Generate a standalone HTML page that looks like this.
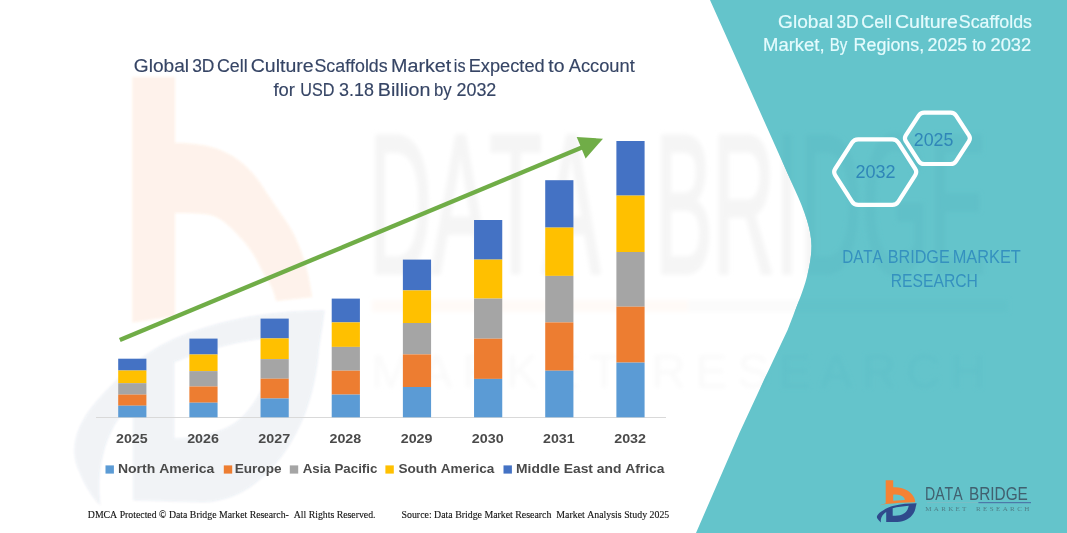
<!DOCTYPE html>
<html lang="en">
<head>
<meta charset="utf-8">
<title>Global 3D Cell Culture Scaffolds Market</title>
<style>
html,body{margin:0;padding:0;background:#fff;}
body{width:1067px;height:533px;overflow:hidden;position:relative;font-family:"Liberation Sans",sans-serif;}
svg{position:absolute;left:0;top:0;display:block;}
text{font-kerning:none;white-space:pre;}
.t{font-family:"Liberation Sans",sans-serif;}
.s{font-family:"Liberation Serif",serif;}
</style>
</head>
<body>
<svg width="1067" height="533" viewBox="0 0 1067 533">
<defs>
<filter id="blur2" x="-5%" y="-5%" width="110%" height="110%"><feGaussianBlur stdDeviation="2.2"/></filter>
<filter id="blur1" x="-5%" y="-5%" width="110%" height="110%"><feGaussianBlur stdDeviation="1"/></filter>
<path id="lgo" fill-rule="evenodd" d="M885.7,480.2 L893.2,480.2 L893.2,487.2 C896.5,487 899.5,487.4 902.1,488.2 C905.8,489.3 908.6,490.8 910.6,492.9 C912.8,495 914.2,497.2 914.8,499.4 C915.1,500.4 915.2,501.3 915.2,502.2 C905,502.3 895,503 885.7,504.1 C883.6,504.4 881.5,504.8 879.6,505.4 C881.4,504.5 883.4,503.9 885.7,503.4 Z M893.2,494.7 C895.8,494.5 898.2,494.7 900.2,495.2 C902.8,495.9 904.5,497.4 904.9,499.9 L893.2,500.7 Z"/>
<path id="lgb" fill-rule="evenodd" d="M916.6,503.2 C912.6,503.2 908.8,503.4 904.9,503.8 C900.6,504.3 896.5,505 892.7,506 C889.2,507 886,508.4 883.4,510.2 C880.4,512 878.2,513.6 877.3,515.4 C876.6,516.8 876.8,518 877.7,519.1 C878.5,520.4 879.6,521.5 881,522.4 C880.6,520.6 880.8,518.8 881.5,517.2 C882.1,515.8 883,514.6 884.3,513.5 C884.9,513 885.5,512.5 886.2,512.1 L886.2,521.9 L897.4,522.1 C900.8,522 904,521.2 906.8,519.6 C909.6,518 911.8,516 913.4,513.5 C914.6,511.6 915.4,509.4 915.7,506.9 C916,505.7 916.3,504.5 916.6,503.2 Z M892.7,508.3 C897.6,507 903,506.2 908.7,505.8 C908.4,507.6 907.8,509.2 906.8,510.7 C905.6,512.3 904,513.6 902.1,514.4 C899.4,515.4 896.2,515.8 892.7,515.8 Z"/>
<path id="pnl" d="M710,0 L795,190 C805,212 811.5,230 811.5,246 C811.5,262 806,283 800,298 L787.6,330 L764,380 L739.4,433 L696,533 L1067,533 L1067,0 Z"/>
<clipPath id="cp"><use href="#pnl"/></clipPath>
</defs>
<rect width="1067" height="533" fill="#ffffff"/>
<g id="wm-logo" filter="url(#blur1)">
<path d="M132.5,77 L175,77 L175,143 C192,143 207,145 220,150 C240,158 254,172 265,190.5 C278,210 287,222 292,231 C302,250 308,268 312,297 L276,301 C274,290 270,283 265,276 C258,262 252,250 242.5,240 C232,228 222,218 211,215 C200,213 188,213 175,213 L175,316 L132.5,322.6 Z" fill="#F58233" opacity="0.10"/>
<g transform="translate(132.5,77) scale(6.3,10.15) translate(-886.1,-480.2)">
<use href="#lgb" fill="#2F4A8C" opacity="0.075"/>
</g></g>
<g id="wm-text" filter="url(#blur2)">
<g class="t" fill="#f5f5f5" stroke="#f5f5f5" stroke-width="3.5" stroke-linejoin="round">
<text x="368.9" y="273" font-size="198" textLength="231.3" lengthAdjust="spacingAndGlyphs">DATA</text>
<text x="654.9" y="273" font-size="198" textLength="331.8" lengthAdjust="spacingAndGlyphs">BRIDGE</text>
</g>
<g class="t" fill="#fafafa">
<text x="371" y="388" font-size="48" textLength="614" lengthAdjust="spacing">MARKET RESEARCH</text>
</g>
<rect x="372" y="300" width="316" height="12" fill="#fffaf7"/>
<rect x="688" y="300" width="130" height="12" fill="#fbfbfb"/>
</g>
<rect x="96" y="417" width="570" height="1" fill="#d9d9d9"/>
<g id="bars">
<rect x="118.20" y="358.70" width="28.2" height="11.80" fill="#4472C4"/>
<rect x="118.20" y="370.50" width="28.2" height="12.70" fill="#FFC000"/>
<rect x="118.20" y="383.20" width="28.2" height="11.40" fill="#A5A5A5"/>
<rect x="118.20" y="394.60" width="28.2" height="11.10" fill="#ED7D31"/>
<rect x="118.20" y="405.70" width="28.2" height="11.60" fill="#5B9BD5"/>
<rect x="189.37" y="338.60" width="28.2" height="15.90" fill="#4472C4"/>
<rect x="189.37" y="354.50" width="28.2" height="16.60" fill="#FFC000"/>
<rect x="189.37" y="371.10" width="28.2" height="15.40" fill="#A5A5A5"/>
<rect x="189.37" y="386.50" width="28.2" height="16.20" fill="#ED7D31"/>
<rect x="189.37" y="402.70" width="28.2" height="14.60" fill="#5B9BD5"/>
<rect x="260.54" y="318.60" width="28.2" height="19.80" fill="#4472C4"/>
<rect x="260.54" y="338.40" width="28.2" height="20.70" fill="#FFC000"/>
<rect x="260.54" y="359.10" width="28.2" height="19.60" fill="#A5A5A5"/>
<rect x="260.54" y="378.70" width="28.2" height="19.80" fill="#ED7D31"/>
<rect x="260.54" y="398.50" width="28.2" height="18.80" fill="#5B9BD5"/>
<rect x="331.71" y="298.60" width="28.2" height="23.80" fill="#4472C4"/>
<rect x="331.71" y="322.40" width="28.2" height="24.50" fill="#FFC000"/>
<rect x="331.71" y="346.90" width="28.2" height="23.80" fill="#A5A5A5"/>
<rect x="331.71" y="370.70" width="28.2" height="23.90" fill="#ED7D31"/>
<rect x="331.71" y="394.60" width="28.2" height="22.70" fill="#5B9BD5"/>
<rect x="402.88" y="259.60" width="28.2" height="30.80" fill="#4472C4"/>
<rect x="402.88" y="290.40" width="28.2" height="32.60" fill="#FFC000"/>
<rect x="402.88" y="323.00" width="28.2" height="31.40" fill="#A5A5A5"/>
<rect x="402.88" y="354.40" width="28.2" height="32.60" fill="#ED7D31"/>
<rect x="402.88" y="387.00" width="28.2" height="30.30" fill="#5B9BD5"/>
<rect x="474.05" y="220.00" width="28.2" height="39.60" fill="#4472C4"/>
<rect x="474.05" y="259.60" width="28.2" height="39.00" fill="#FFC000"/>
<rect x="474.05" y="298.60" width="28.2" height="40.10" fill="#A5A5A5"/>
<rect x="474.05" y="338.70" width="28.2" height="40.20" fill="#ED7D31"/>
<rect x="474.05" y="378.90" width="28.2" height="38.40" fill="#5B9BD5"/>
<rect x="545.22" y="180.20" width="28.2" height="47.40" fill="#4472C4"/>
<rect x="545.22" y="227.60" width="28.2" height="48.30" fill="#FFC000"/>
<rect x="545.22" y="275.90" width="28.2" height="46.50" fill="#A5A5A5"/>
<rect x="545.22" y="322.40" width="28.2" height="48.30" fill="#ED7D31"/>
<rect x="545.22" y="370.70" width="28.2" height="46.60" fill="#5B9BD5"/>
<rect x="616.39" y="141.00" width="28.2" height="54.60" fill="#4472C4"/>
<rect x="616.39" y="195.60" width="28.2" height="56.40" fill="#FFC000"/>
<rect x="616.39" y="252.00" width="28.2" height="54.70" fill="#A5A5A5"/>
<rect x="616.39" y="306.70" width="28.2" height="55.90" fill="#ED7D31"/>
<rect x="616.39" y="362.60" width="28.2" height="54.70" fill="#5B9BD5"/>
</g>
<g id="years" class="t" font-size="12.7" font-weight="700" fill="#4a4a4a">
<text x="116.01" y="442.6" textLength="31.69" lengthAdjust="spacingAndGlyphs">2025</text>
<text x="187.17" y="442.6" textLength="31.81" lengthAdjust="spacingAndGlyphs">2026</text>
<text x="258.34" y="442.6" textLength="31.93" lengthAdjust="spacingAndGlyphs">2027</text>
<text x="329.52" y="442.6" textLength="31.73" lengthAdjust="spacingAndGlyphs">2028</text>
<text x="400.68" y="442.6" textLength="31.83" lengthAdjust="spacingAndGlyphs">2029</text>
<text x="471.85" y="442.6" textLength="31.88" lengthAdjust="spacingAndGlyphs">2030</text>
<text x="543.03" y="442.6" textLength="31.69" lengthAdjust="spacingAndGlyphs">2031</text>
<text x="614.19" y="442.6" textLength="31.87" lengthAdjust="spacingAndGlyphs">2032</text>
</g>
<g id="arrow">
<line x1="119.8" y1="340" x2="583" y2="147.05" stroke="#70AD47" stroke-width="4.4"/>
<polygon points="603,138.7 576.7,137 585.6,158.5" fill="#70AD47"/>
</g>
<g id="legend" class="t" font-size="12.6" font-weight="700" fill="#4a4a4a">
<rect x="105.5" y="465.4" width="8.4" height="8.2" fill="#5B9BD5"/><text x="117.96" y="472.6" textLength="96.45" lengthAdjust="spacingAndGlyphs">North America</text>
<rect x="223.8" y="465.4" width="8.4" height="8.2" fill="#ED7D31"/><text x="234.69" y="472.6" textLength="46.88" lengthAdjust="spacingAndGlyphs">Europe</text>
<rect x="289.8" y="465.4" width="8.4" height="8.2" fill="#A5A5A5"/><text x="302.67" y="472.6" textLength="74.72" lengthAdjust="spacingAndGlyphs">Asia Pacific</text>
<rect x="385.4" y="465.4" width="8.4" height="8.2" fill="#FFC000"/><text x="398.51" y="472.6" textLength="95.91" lengthAdjust="spacingAndGlyphs">South America</text>
<rect x="503.5" y="465.4" width="8.4" height="8.2" fill="#4472C4"/><text x="516.07" y="472.6" textLength="148.44" lengthAdjust="spacingAndGlyphs">Middle East and Africa</text>
</g>
<g id="footer" class="s" font-size="9.8" fill="#111111" stroke="#111111" stroke-width="0.12">
<text x="87.82" y="517.5" textLength="287.73" lengthAdjust="spacingAndGlyphs">DMCA Protected © Data Bridge Market Research-  All Rights Reserved.</text>
<text x="401.54" y="517.5" textLength="267.74" lengthAdjust="spacingAndGlyphs">Source: Data Bridge Market Research  Market Analysis Study 2025</text>
</g>
<g id="title" class="t" font-size="17.5" fill="#364565" stroke="#364565" stroke-width="0.15">
<text x="133.84" y="72.4" textLength="55.24" lengthAdjust="spacingAndGlyphs">Global</text>
<text x="192.14" y="72.4" textLength="22.19" lengthAdjust="spacingAndGlyphs">3D</text>
<text x="217.00" y="72.4" textLength="30.70" lengthAdjust="spacingAndGlyphs">Cell</text>
<text x="250.71" y="72.4" textLength="62.96" lengthAdjust="spacingAndGlyphs">Culture</text>
<text x="314.49" y="72.4" textLength="73.15" lengthAdjust="spacingAndGlyphs">Scaffolds</text>
<text x="391.09" y="72.4" textLength="60.16" lengthAdjust="spacingAndGlyphs">Market</text>
<text x="453.82" y="72.4" textLength="11.66" lengthAdjust="spacingAndGlyphs">is</text>
<text x="468.71" y="72.4" textLength="75.97" lengthAdjust="spacingAndGlyphs">Expected</text>
<text x="548.31" y="72.4" textLength="16.21" lengthAdjust="spacingAndGlyphs">to</text>
<text x="568.76" y="72.4" textLength="65.97" lengthAdjust="spacingAndGlyphs">Account</text>
<text x="273.44" y="96.3" textLength="21.47" lengthAdjust="spacingAndGlyphs">for</text>
<text x="300.25" y="96.3" textLength="34.12" lengthAdjust="spacingAndGlyphs">USD</text>
<text x="339.12" y="96.3" textLength="34.86" lengthAdjust="spacingAndGlyphs">3.18</text>
<text x="377.89" y="96.3" textLength="52.49" lengthAdjust="spacingAndGlyphs">Billion</text>
<text x="434.02" y="96.3" textLength="17.71" lengthAdjust="spacingAndGlyphs">by</text>
<text x="456.50" y="96.3" textLength="39.80" lengthAdjust="spacingAndGlyphs">2032</text>
</g>
<use href="#pnl" fill="#64c4cb"/>
<g id="wm-text2" clip-path="url(#cp)"><g filter="url(#blur2)">
<g class="t" fill="#61c0c8" stroke="#61c0c8" stroke-width="3.5" stroke-linejoin="round">
<text x="368.9" y="273" font-size="198" textLength="231.3" lengthAdjust="spacingAndGlyphs">DATA</text>
<text x="654.9" y="273" font-size="198" textLength="331.8" lengthAdjust="spacingAndGlyphs">BRIDGE</text>
</g>
<g class="t" fill="#61c1c9">
<text x="371" y="388" font-size="48" textLength="614" lengthAdjust="spacing">MARKET RESEARCH</text>
</g>
<rect x="700" y="300" width="308" height="12" fill="#62c2c9"/>
</g></g>
<g id="rtitle" class="t" font-size="17.5" fill="#e4fbfd" stroke="#e4fbfd" stroke-width="0.2">
<text x="778.14" y="27.8" textLength="55.24" lengthAdjust="spacingAndGlyphs">Global</text>
<text x="836.44" y="27.8" textLength="22.19" lengthAdjust="spacingAndGlyphs">3D</text>
<text x="861.30" y="27.8" textLength="30.70" lengthAdjust="spacingAndGlyphs">Cell</text>
<text x="895.01" y="27.8" textLength="62.96" lengthAdjust="spacingAndGlyphs">Culture</text>
<text x="958.79" y="27.8" textLength="73.15" lengthAdjust="spacingAndGlyphs">Scaffolds</text>
<text x="763.08" y="51.3" textLength="61.57" lengthAdjust="spacingAndGlyphs">Market,</text>
<text x="829.66" y="51.3" textLength="17.67" lengthAdjust="spacingAndGlyphs">By</text>
<text x="853.63" y="51.3" textLength="70.57" lengthAdjust="spacingAndGlyphs">Regions,</text>
<text x="927.60" y="51.3" textLength="39.64" lengthAdjust="spacingAndGlyphs">2025</text>
<text x="972.14" y="51.3" textLength="14.06" lengthAdjust="spacingAndGlyphs">to</text>
<text x="990.48" y="51.3" textLength="40.64" lengthAdjust="spacingAndGlyphs">2032</text>
</g>
<g id="hex" fill="none" stroke="#ffffff" stroke-width="4.2" stroke-linejoin="round">
<path d="M835.26,175.46 Q833.10,172.10 835.26,168.74 L852.04,142.66 Q854.20,139.30 858.20,139.30 L892.20,139.30 Q896.20,139.30 898.36,142.66 L915.14,168.74 Q917.30,172.10 915.14,175.46 L898.36,201.54 Q896.20,204.90 892.20,204.90 L858.20,204.90 Q854.20,204.90 852.04,201.54 Z"/>
<path d="M905.81,141.23 Q903.90,138.30 905.81,135.37 L918.69,115.53 Q920.60,112.60 924.10,112.60 L950.70,112.60 Q954.20,112.60 956.11,115.53 L968.99,135.37 Q970.90,138.30 968.99,141.23 L956.11,161.07 Q954.20,164.00 950.70,164.00 L924.10,164.00 Q920.60,164.00 918.69,161.07 Z"/>
</g>
<g class="t" font-size="18" fill="#2f86b8">
<text x="855.49" y="177.8" textLength="40.11" lengthAdjust="spacingAndGlyphs">2032</text>
<text x="913.80" y="145.7" textLength="39.64" lengthAdjust="spacingAndGlyphs">2025</text>
</g>
<g id="dbmr" class="t" font-size="17.6" fill="#3591bf">
<text x="842.15" y="262.7" textLength="40.58" lengthAdjust="spacingAndGlyphs">DATA</text>
<text x="887.67" y="262.7" textLength="62.13" lengthAdjust="spacingAndGlyphs">BRIDGE</text>
<text x="952.66" y="262.7" textLength="68.22" lengthAdjust="spacingAndGlyphs">MARKET</text>
<text x="890.71" y="286.7" textLength="87.17" lengthAdjust="spacingAndGlyphs">RESEARCH</text>
</g>
<g id="logo">
<use href="#lgo" fill="#F58233"/>
<use href="#lgb" fill="#2F4A8C"/>
</g>
<g class="t" fill="#41606f">
<g font-size="19"><text x="925.04" y="499.9" textLength="37.58" lengthAdjust="spacingAndGlyphs">DATA</text><text x="968.94" y="499.9" textLength="58.92" lengthAdjust="spacingAndGlyphs">BRIDGE</text></g>
<rect x="927" y="502.2" width="51.4" height="0.8" fill="#80bcc4"/>
<rect x="978.4" y="502.1" width="52.6" height="1.1" fill="#4a72a6"/>
<g class="s" font-size="7" fill="#4f7f88">
<text x="925.32" y="511.4" textLength="41.04" lengthAdjust="spacing">MARKET</text>
<text x="975.91" y="511.4" textLength="53.39" lengthAdjust="spacing">RESEARCH</text>
</g>
</g>
</svg>
</body>
</html>
